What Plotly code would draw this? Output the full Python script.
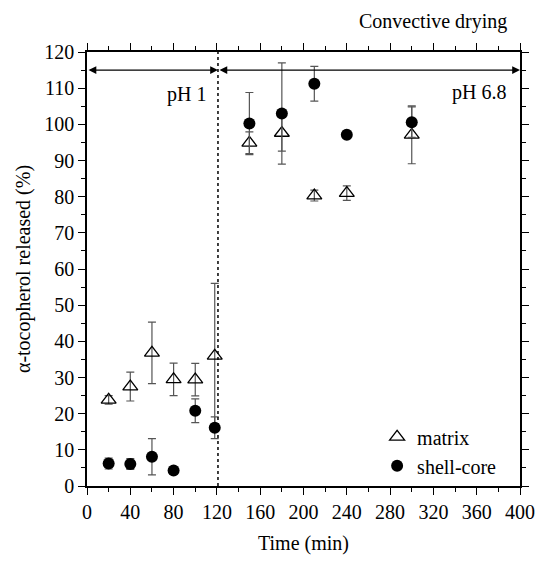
import plotly.graph_objects as go

time_matrix = [20, 40, 60, 80, 100, 118, 150, 180, 210, 240, 300]
matrix = [23.8, 27.5, 36.8, 29.5, 29.4, 36.0, 94.9, 97.6, 80.3, 81.0, 97.1]
matrix_err = [1.2, 4.0, 8.5, 4.5, 4.5, 20.0, 3.0, 5.0, 1.5, 2.0, 8.0]

time_shell = [20, 40, 60, 80, 100, 118, 150, 180, 210, 240, 300]
shell = [6.2, 6.1, 8.1, 4.3, 20.8, 16.1, 100.2, 103.0, 111.2, 97.1, 100.6]
shell_err = [1.5, 1.5, 5.0, 0.0, 3.3, 3.0, 8.6, 14.0, 4.8, 0.0, 4.2]

FONT = "Liberation Serif"
FS = 20

fig = go.Figure()
fig.add_trace(go.Scatter(
    x=time_matrix, y=matrix, mode="markers", name="matrix",
    marker=dict(symbol="triangle-up-open", size=13, color="black", line=dict(width=1.3)),
    error_y=dict(type="data", array=matrix_err, visible=True, color="#555555", thickness=1.2, width=4),
))
fig.add_trace(go.Scatter(
    x=time_shell, y=shell, mode="markers", name="shell-core",
    marker=dict(symbol="circle", size=12, color="black"),
    error_y=dict(type="data", array=shell_err, visible=True, color="#555555", thickness=1.2, width=4),
))

# dotted divider
fig.add_shape(type="line", x0=121, x1=121, y0=0, y1=1, xref="x", yref="paper",
              line=dict(color="black", width=1.5, dash="dot"))

# double-headed arrows
for x0, x1 in [(0, 121), (121, 400)]:
    fig.add_annotation(x=x1, y=115, ax=x0, ay=115, xref="x", yref="y", axref="x", ayref="y",
                       text="", showarrow=True, arrowhead=2, startarrowhead=2, arrowside="end+start",
                       arrowsize=1.3, startarrowsize=1.3, arrowwidth=1.2, arrowcolor="black")

fig.add_annotation(x=112, y=108.3, xref="x", yref="y", text="pH 1", showarrow=False,
                   xanchor="right", yanchor="middle", font=dict(family=FONT, size=FS, color="black"))
fig.add_annotation(x=389, y=108.8, xref="x", yref="y", text="pH 6.8", showarrow=False,
                   xanchor="right", yanchor="middle", font=dict(family=FONT, size=FS, color="black"))
fig.add_annotation(x=0.975, y=1.07, xref="paper", yref="paper", text="Convective drying", showarrow=False,
                   xanchor="right", yanchor="middle", font=dict(family=FONT, size=FS, color="black"))

axis_common = dict(
    showline=True, linecolor="black", linewidth=1.6, mirror="ticks",
    ticks="outside", ticklen=7, tickwidth=1.4, tickcolor="black",
    showgrid=False, zeroline=False,
    tickfont=dict(family=FONT, size=FS, color="black"),
)

fig.update_layout(
    width=547, height=563,
    margin=dict(l=87, r=16, t=52, b=70),
    plot_bgcolor="white", paper_bgcolor="white",
    font=dict(family=FONT, size=FS, color="black"),
    xaxis=dict(range=[0, 400], tick0=0, dtick=40,
               minor=dict(dtick=20, ticks="outside", ticklen=4, tickwidth=1.4, tickcolor="black"),
               title=dict(text="Time (min)", font=dict(family=FONT, size=FS), standoff=14),
               **axis_common),
    yaxis=dict(range=[0, 120], tick0=0, dtick=10,
               minor=dict(dtick=5, ticks="outside", ticklen=4, tickwidth=1.4, tickcolor="black"),
               title=dict(text="α-tocopherol released (%)", font=dict(family=FONT, size=FS), standoff=8),
               **axis_common),
    legend=dict(x=0.67, y=0.08, xanchor="left", yanchor="middle", bgcolor="rgba(0,0,0,0)",
                font=dict(family=FONT, size=FS, color="black"), tracegroupgap=0),
    showlegend=True,
)

fig.write_html("out.html")
